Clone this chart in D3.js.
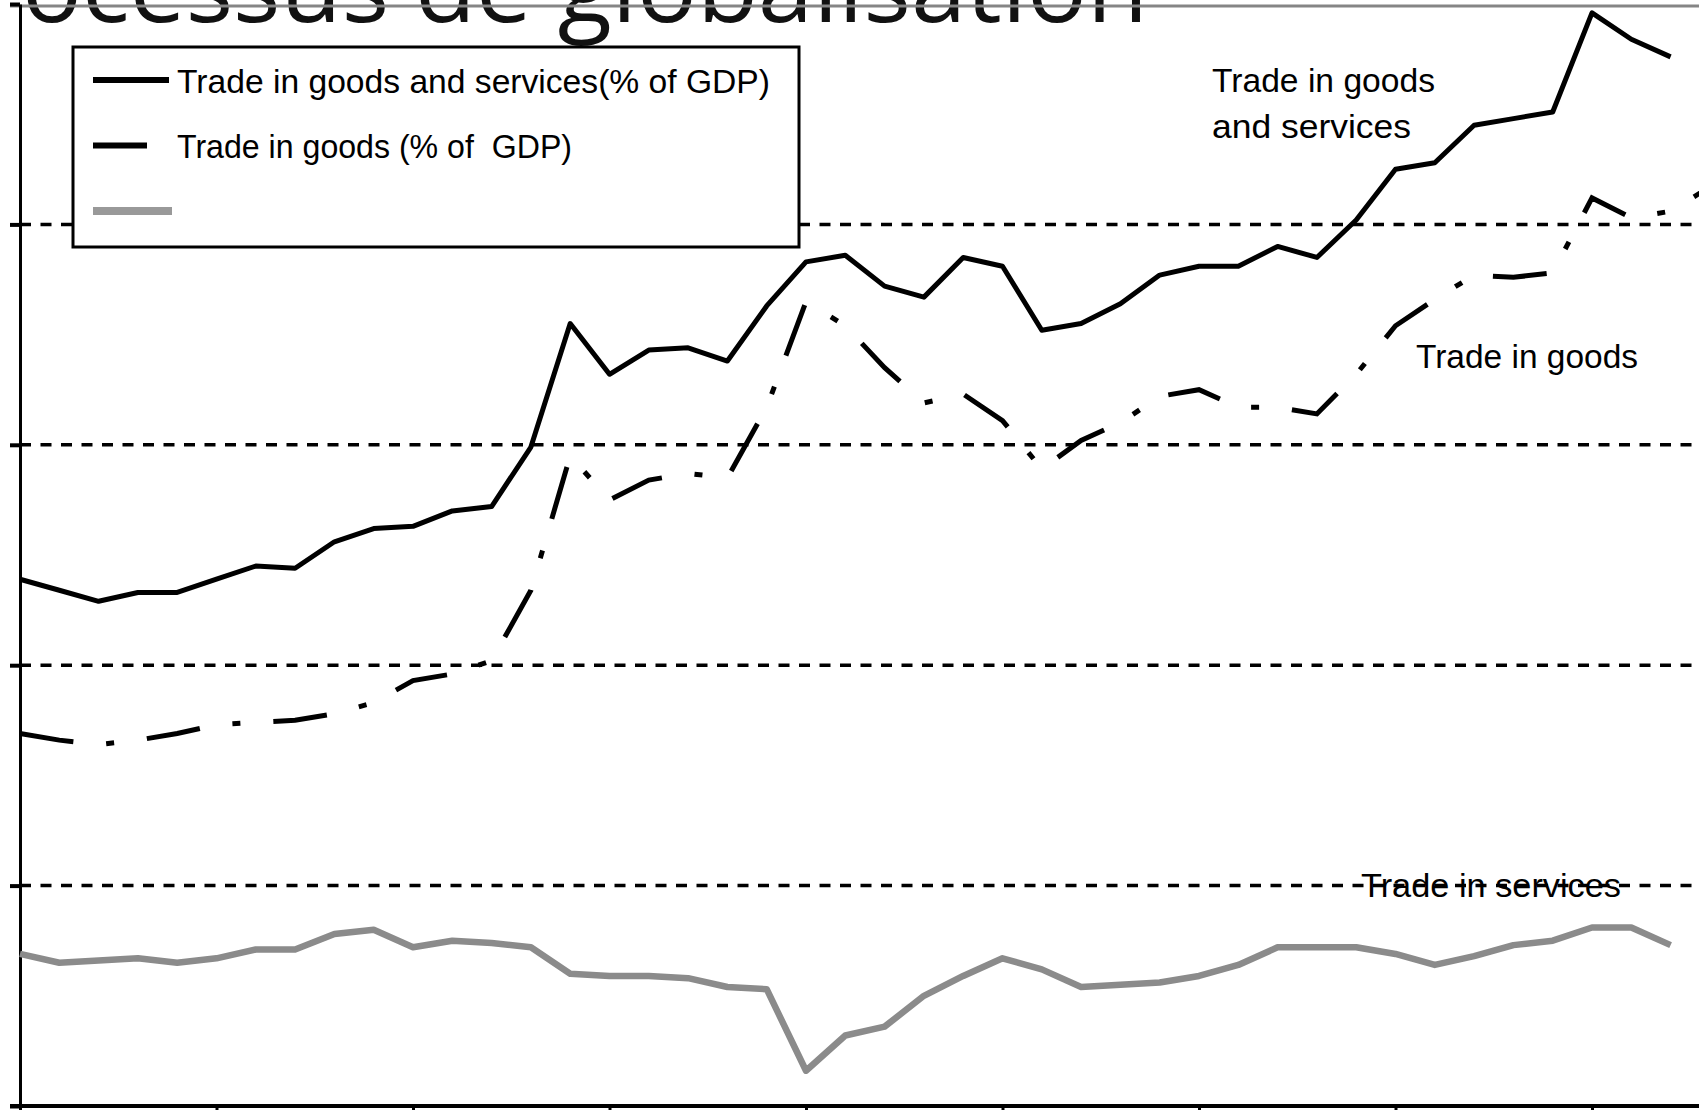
<!DOCTYPE html>
<html>
<head>
<meta charset="utf-8">
<script src="https://cdn.jsdelivr.net/npm/d3@7"></script>
<style>
  body { margin: 0; background: #fff; overflow: hidden; }
  svg { display: block; }
  .lbl {
    font-family: "Liberation Sans", Arial, sans-serif;
    font-size: 34px;
    fill: #000;
    white-space: pre;
  }
</style>
</head>
<body>
<svg width="1699" height="1110"></svg>
<script>
// years on the x axis (goods series runs one year longer, cut by the frame)
const years = [1960, 1961, 1962, 1963, 1964, 1965, 1966, 1967, 1968, 1969,
  1970, 1971, 1972, 1973, 1974, 1975, 1976, 1977, 1978, 1979,
  1980, 1981, 1982, 1983, 1984, 1985, 1986, 1987, 1988, 1989,
  1990, 1991, 1992, 1993, 1994, 1995, 1996, 1997, 1998, 1999,
  2000, 2001, 2002, 2003];

// % of GDP
const goodsServices = [23.9, 23.4, 22.9, 23.3, 23.3, 23.9, 24.5, 24.4, 25.6, 26.2,
  26.3, 27.0, 27.2, 29.9, 35.5, 33.2, 34.3, 34.4, 33.8, 36.3,
  38.3, 38.6, 37.2, 36.7, 38.5, 38.1, 35.2, 35.5, 36.4, 37.7,
  38.1, 38.1, 39.0, 38.5, 40.2, 42.5, 42.8, 44.5, 44.8, 45.1,
  49.6, 48.4, 47.6];

const goods = [16.9, 16.6, 16.4, 16.6, 16.9, 17.3, 17.4, 17.5, 17.8, 18.3,
  19.3, 19.6, 20.2, 23.4, 29.5, 27.5, 28.4, 28.7, 28.5, 31.7,
  36.5, 35.4, 33.5, 31.9, 32.3, 31.1, 28.9, 30.2, 31.0, 32.2,
  32.5, 31.7, 31.7, 31.4, 33.2, 35.4, 36.6, 37.7, 37.6, 37.8,
  41.2, 40.3, 40.6, 41.7];

const services = [6.9, 6.5, 6.6, 6.7, 6.5, 6.7, 7.1, 7.1, 7.8, 8.0,
  7.2, 7.5, 7.4, 7.2, 6.0, 5.9, 5.9, 5.8, 5.4, 5.3,
  1.6, 3.2, 3.6, 5.0, 5.9, 6.7, 6.2, 5.4, 5.5, 5.6,
  5.9, 6.4, 7.2, 7.2, 7.2, 6.9, 6.4, 6.8, 7.3, 7.5,
  8.1, 8.1, 7.3];

const yTicks = [0, 10, 20, 30, 40, 50];
const gridValues = [10, 20, 30, 40];
const xTicks = [1960, 1965, 1970, 1975, 1980, 1985, 1990, 1995, 2000];

const legendLabels = ["Trade in goods and services(% of GDP)", "Trade in goods (% of  GDP)", ""];

window.onload = () => {
  const svg = d3.select("svg"),
    width = +svg.attr("width"),
    height = +svg.attr("height");

  const x = d3.scaleLinear().domain([1960, 2002]).range([20, 1670.6]);
  const y = d3.scaleLinear().domain([0, 50]).range([1106, 4]);

  const goodsDash = "54,33,8,33";

  /* title, mostly cut off by the top of the frame */
  const title = svg.append("text")
    .attr("x", 1148)
    .attr("y", 22)
    .attr("text-anchor", "end")
    .style("font-family", "'Open Sans', sans-serif")
    .style("font-size", "76px")
    .attr("fill", "#111")
    .text("Processus de globalisation");
  // size it so "ocessus de globalisation" spans the same width as in the picture
  const subLen = title.node().getSubStringLength(2, 24);
  title.style("font-size", (76 * 1126 / subLen) + "px");

  // grey frame line at the top
  svg.append("line")
    .attr("x1", 10).attr("x2", width)
    .attr("y1", y(50) + 2).attr("y2", y(50) + 2)
    .attr("stroke", "#858585")
    .attr("stroke-width", 3);

  // dashed gridlines
  svg.append("g")
    .attr("class", "grid")
    .selectAll("line")
    .data(gridValues)
    .enter()
    .append("line")
    .attr("x1", 20).attr("x2", width)
    .attr("y1", (d) => y(d)).attr("y2", (d) => y(d))
    .attr("stroke", "#000")
    .attr("stroke-width", 3.5)
    .attr("stroke-dasharray", "11,9.5");

  // y axis
  const yAxis = svg.append("g")
    .attr("transform", "translate(20,0)")
    .call(d3.axisLeft(y).tickValues(yTicks).tickSize(10).tickSizeOuter(0).tickFormat(""));
  yAxis.select(".domain").attr("stroke", "#000").attr("stroke-width", 3);
  yAxis.selectAll(".tick line").attr("stroke", "#000").attr("stroke-width", 4);

  // x axis
  const xAxis = svg.append("g")
    .attr("transform", `translate(0,${y(0)})`)
    .call(d3.axisBottom(x).tickValues(xTicks).tickSize(8).tickSizeOuter(0).tickFormat(""));
  xAxis.select(".domain").remove();
  xAxis.selectAll(".tick line").attr("stroke", "#000").attr("stroke-width", 3);
  xAxis.append("line")
    .attr("x1", 10).attr("x2", width)
    .attr("stroke", "#000")
    .attr("stroke-width", 4);

  const line = d3.line()
    .x((d, i) => x(years[i]))
    .y((d) => y(d));

  svg.append("path")
    .datum(services)
    .attr("d", line)
    .attr("fill", "none")
    .attr("stroke", "#8b8b8b")
    .attr("stroke-width", 6.5)
    .attr("stroke-linejoin", "round");

  svg.append("path")
    .datum(goods)
    .attr("d", line)
    .attr("fill", "none")
    .attr("stroke", "#000")
    .attr("stroke-width", 5)
    .attr("stroke-dasharray", goodsDash);

  svg.append("path")
    .datum(goodsServices)
    .attr("d", line)
    .attr("fill", "none")
    .attr("stroke", "#000")
    .attr("stroke-width", 5)
    .attr("stroke-linejoin", "round");

  /* legend */
  const legend = svg.append("g").attr("transform", "translate(73,47)");

  legend.append("rect")
    .attr("width", 726)
    .attr("height", 200)
    .attr("fill", "#fff")
    .attr("stroke", "#000")
    .attr("stroke-width", 3);

  const swatches = [
    { color: "#000", w: 6, len: 76, dash: null },
    { color: "#000", w: 6, len: 76, dash: goodsDash },
    { color: "#999", w: 8, len: 79, dash: null },
  ];
  const textWidths = [593, 395, 0];

  legendLabels.forEach((label, i) => {
    const cy = 33 + i * 65.5;
    legend.append("line")
      .attr("x1", 20).attr("x2", 20 + swatches[i].len)
      .attr("y1", cy).attr("y2", cy)
      .attr("stroke", swatches[i].color)
      .attr("stroke-width", swatches[i].w)
      .attr("stroke-dasharray", swatches[i].dash);
    if (label) {
      legend.append("text")
        .attr("class", "lbl")
        .attr("x", 104)
        .attr("y", cy + 12.5)
        .attr("textLength", textWidths[i])
        .attr("lengthAdjust", "spacingAndGlyphs")
        .text(label);
    }
  });

  /* labels next to the lines */
  const notes = [
    { text: "Trade in goods", x: 1212, y: 92, w: 223 },
    { text: "and services", x: 1212, y: 138, w: 199 },
    { text: "Trade in goods", x: 1416, y: 368, w: 222 },
    { text: "Trade in services", x: 1361, y: 897, w: 260 },
  ];

  svg.append("g")
    .selectAll("text")
    .data(notes)
    .enter()
    .append("text")
    .attr("class", "lbl")
    .attr("x", (d) => d.x)
    .attr("y", (d) => d.y)
    .attr("textLength", (d) => d.w)
    .attr("lengthAdjust", "spacingAndGlyphs")
    .text((d) => d.text);
};
</script>
</body>
</html>
